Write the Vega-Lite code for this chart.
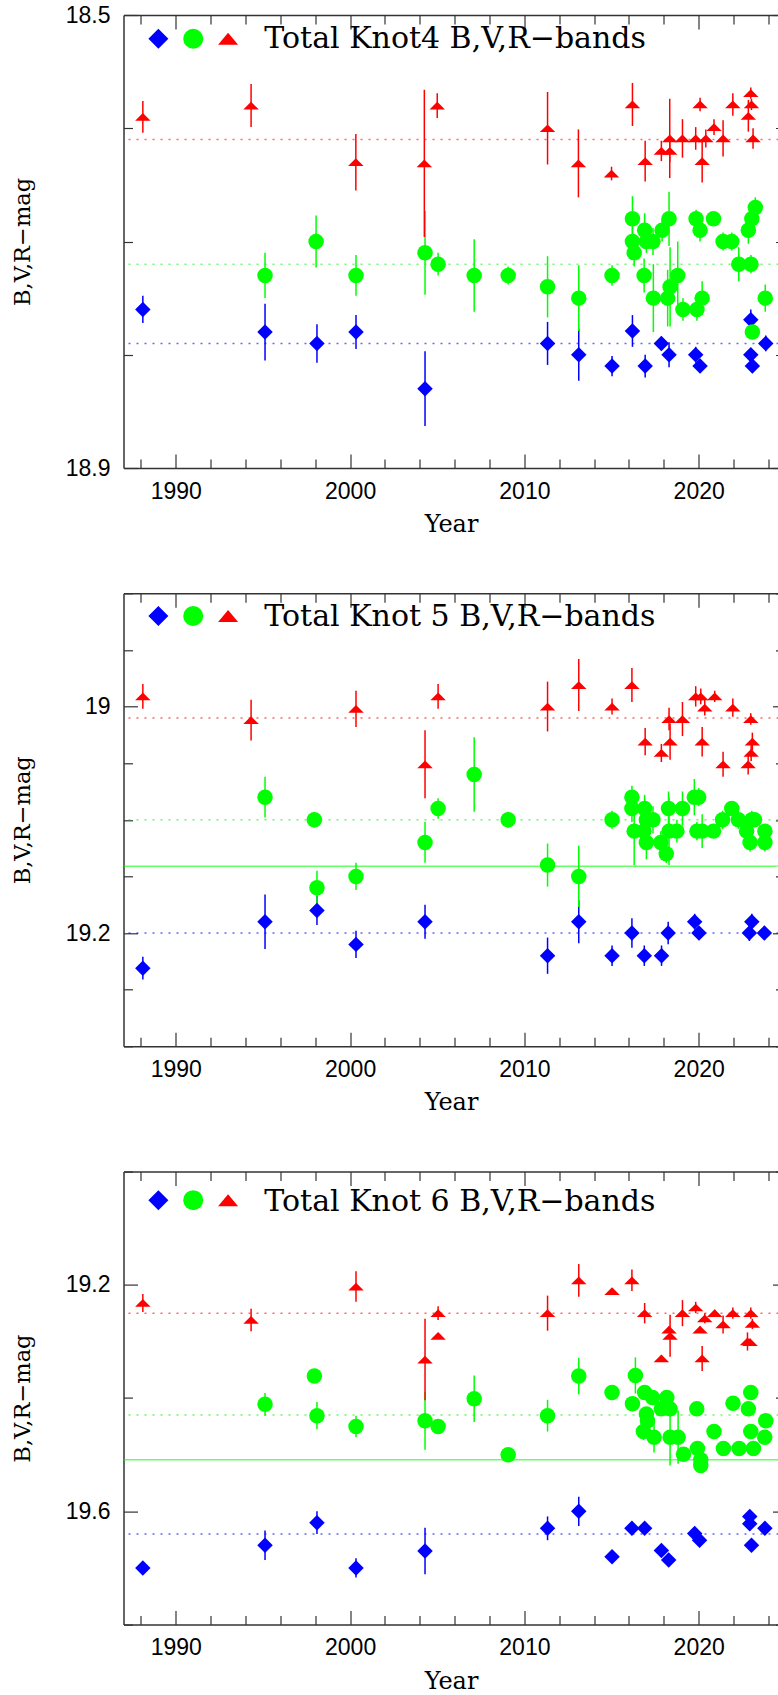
{
"$schema":"https://vega.github.io/schema/vega-lite/v6.json",
"padding":{"left":11.5,"top":4,"right":0,"bottom":0},
"background":"white",
"config":{"view":{"stroke":null}},
"spacing":125.3,
"bounds":"flush",
"datasets":{
"lines":[
{"panel":1,"band":"R","kind":"mean","mag":18.61},{"panel":1,"band":"V","kind":"mean","mag":18.72},{"panel":1,"band":"B","kind":"mean","mag":18.79},
{"panel":2,"band":"R","kind":"mean","mag":19.01},{"panel":2,"band":"V","kind":"mean","mag":19.10},{"panel":2,"band":"V","kind":"fit","mag":19.141},{"panel":2,"band":"B","kind":"mean","mag":19.20},
{"panel":3,"band":"R","kind":"mean","mag":19.25},{"panel":3,"band":"V","kind":"mean","mag":19.43},{"panel":3,"band":"V","kind":"fit","mag":19.509},{"panel":3,"band":"B","kind":"mean","mag":19.64}],
"obs":[
{"panel":1,"band":"B","year":1988.11,"mag":18.760,"err":0.012},
{"panel":1,"band":"B","year":1995.12,"mag":18.780,"err":0.025},
{"panel":1,"band":"B","year":1998.10,"mag":18.790,"err":0.017},
{"panel":1,"band":"B","year":2000.34,"mag":18.780,"err":0.015},
{"panel":1,"band":"B","year":2004.30,"mag":18.830,"err":0.033},
{"panel":1,"band":"B","year":2011.33,"mag":18.790,"err":0.019},
{"panel":1,"band":"B","year":2013.12,"mag":18.800,"err":0.023},
{"panel":1,"band":"B","year":2015.03,"mag":18.810,"err":0.009},
{"panel":1,"band":"B","year":2016.20,"mag":18.779,"err":0.014},
{"panel":1,"band":"B","year":2016.93,"mag":18.810,"err":0.010},
{"panel":1,"band":"B","year":2017.86,"mag":18.790,"err":0.006},
{"panel":1,"band":"B","year":2018.30,"mag":18.800,"err":0.011},
{"panel":1,"band":"B","year":2019.83,"mag":18.800,"err":0.007},
{"panel":1,"band":"B","year":2020.08,"mag":18.810,"err":0.006},
{"panel":1,"band":"B","year":2022.99,"mag":18.769,"err":0.009},
{"panel":1,"band":"B","year":2022.99,"mag":18.800,"err":0.006},
{"panel":1,"band":"B","year":2023.08,"mag":18.810,"err":0.006},
{"panel":1,"band":"B","year":2023.85,"mag":18.790,"err":0.007},
{"panel":1,"band":"V","year":1995.12,"mag":18.730,"err":0.020},
{"panel":1,"band":"V","year":1998.05,"mag":18.700,"err":0.023},
{"panel":1,"band":"V","year":2000.34,"mag":18.730,"err":0.018},
{"panel":1,"band":"V","year":2004.30,"mag":18.710,"err":0.037},
{"panel":1,"band":"V","year":2005.05,"mag":18.720,"err":0.010},
{"panel":1,"band":"V","year":2007.12,"mag":18.730,"err":0.032},
{"panel":1,"band":"V","year":2009.07,"mag":18.730,"err":0.008},
{"panel":1,"band":"V","year":2011.33,"mag":18.740,"err":0.027},
{"panel":1,"band":"V","year":2013.12,"mag":18.750,"err":0.029},
{"panel":1,"band":"V","year":2015.03,"mag":18.730,"err":0.009},
{"panel":1,"band":"V","year":2016.20,"mag":18.680,"err":0.020},
{"panel":1,"band":"V","year":2016.20,"mag":18.700,"err":0.015},
{"panel":1,"band":"V","year":2016.30,"mag":18.710,"err":0.012},
{"panel":1,"band":"V","year":2016.90,"mag":18.690,"err":0.015},
{"panel":1,"band":"V","year":2016.87,"mag":18.730,"err":0.015},
{"panel":1,"band":"V","year":2017.00,"mag":18.700,"err":0.010},
{"panel":1,"band":"V","year":2017.38,"mag":18.700,"err":0.012},
{"panel":1,"band":"V","year":2017.40,"mag":18.750,"err":0.030},
{"panel":1,"band":"V","year":2017.90,"mag":18.690,"err":0.010},
{"panel":1,"band":"V","year":2018.22,"mag":18.750,"err":0.025},
{"panel":1,"band":"V","year":2018.30,"mag":18.680,"err":0.024},
{"panel":1,"band":"V","year":2018.36,"mag":18.740,"err":0.035},
{"panel":1,"band":"V","year":2018.80,"mag":18.730,"err":0.030},
{"panel":1,"band":"V","year":2019.10,"mag":18.760,"err":0.010},
{"panel":1,"band":"V","year":2019.85,"mag":18.680,"err":0.008},
{"panel":1,"band":"V","year":2019.90,"mag":18.760,"err":0.010},
{"panel":1,"band":"V","year":2020.08,"mag":18.690,"err":0.010},
{"panel":1,"band":"V","year":2020.20,"mag":18.750,"err":0.015},
{"panel":1,"band":"V","year":2020.85,"mag":18.680,"err":0.006},
{"panel":1,"band":"V","year":2021.40,"mag":18.700,"err":0.008},
{"panel":1,"band":"V","year":2021.90,"mag":18.700,"err":0.008},
{"panel":1,"band":"V","year":2022.30,"mag":18.720,"err":0.015},
{"panel":1,"band":"V","year":2022.85,"mag":18.690,"err":0.012},
{"panel":1,"band":"V","year":2023.00,"mag":18.720,"err":0.008},
{"panel":1,"band":"V","year":2023.05,"mag":18.680,"err":0.008},
{"panel":1,"band":"V","year":2023.08,"mag":18.780,"err":0.005},
{"panel":1,"band":"V","year":2023.25,"mag":18.670,"err":0.009},
{"panel":1,"band":"V","year":2023.82,"mag":18.750,"err":0.012},
{"panel":1,"band":"R","year":1988.11,"mag":18.590,"err":0.014},
{"panel":1,"band":"R","year":1994.32,"mag":18.580,"err":0.019},
{"panel":1,"band":"R","year":2000.33,"mag":18.630,"err":0.025},
{"panel":1,"band":"R","year":2004.26,"mag":18.631,"err":0.065},
{"panel":1,"band":"R","year":2005.00,"mag":18.580,"err":0.011},
{"panel":1,"band":"R","year":2011.33,"mag":18.600,"err":0.032},
{"panel":1,"band":"R","year":2013.10,"mag":18.631,"err":0.030},
{"panel":1,"band":"R","year":2015.00,"mag":18.640,"err":0.006},
{"panel":1,"band":"R","year":2016.20,"mag":18.579,"err":0.019},
{"panel":1,"band":"R","year":2016.93,"mag":18.629,"err":0.018},
{"panel":1,"band":"R","year":2017.86,"mag":18.620,"err":0.009},
{"panel":1,"band":"R","year":2018.34,"mag":18.609,"err":0.035},
{"panel":1,"band":"R","year":2018.34,"mag":18.620,"err":0.010},
{"panel":1,"band":"R","year":2019.07,"mag":18.609,"err":0.017},
{"panel":1,"band":"R","year":2019.83,"mag":18.609,"err":0.010},
{"panel":1,"band":"R","year":2020.08,"mag":18.579,"err":0.006},
{"panel":1,"band":"R","year":2020.20,"mag":18.629,"err":0.019},
{"panel":1,"band":"R","year":2020.41,"mag":18.609,"err":0.008},
{"panel":1,"band":"R","year":2020.88,"mag":18.599,"err":0.007},
{"panel":1,"band":"R","year":2021.40,"mag":18.609,"err":0.016},
{"panel":1,"band":"R","year":2021.96,"mag":18.579,"err":0.010},
{"panel":1,"band":"R","year":2022.85,"mag":18.589,"err":0.014},
{"panel":1,"band":"R","year":2022.99,"mag":18.569,"err":0.005},
{"panel":1,"band":"R","year":2023.03,"mag":18.579,"err":0.005},
{"panel":1,"band":"R","year":2023.12,"mag":18.609,"err":0.009},
{"panel":2,"band":"B","year":1988.11,"mag":19.231,"err":0.010},
{"panel":2,"band":"B","year":1995.12,"mag":19.190,"err":0.024},
{"panel":2,"band":"B","year":1998.10,"mag":19.180,"err":0.013},
{"panel":2,"band":"B","year":2000.34,"mag":19.210,"err":0.012},
{"panel":2,"band":"B","year":2004.30,"mag":19.190,"err":0.015},
{"panel":2,"band":"B","year":2011.33,"mag":19.220,"err":0.016},
{"panel":2,"band":"B","year":2013.12,"mag":19.190,"err":0.019},
{"panel":2,"band":"B","year":2015.03,"mag":19.220,"err":0.009},
{"panel":2,"band":"B","year":2016.17,"mag":19.200,"err":0.013},
{"panel":2,"band":"B","year":2016.88,"mag":19.220,"err":0.009},
{"panel":2,"band":"B","year":2017.87,"mag":19.220,"err":0.009},
{"panel":2,"band":"B","year":2018.25,"mag":19.200,"err":0.010},
{"panel":2,"band":"B","year":2019.77,"mag":19.190,"err":0.007},
{"panel":2,"band":"B","year":2020.02,"mag":19.200,"err":0.006},
{"panel":2,"band":"B","year":2022.91,"mag":19.200,"err":0.007},
{"panel":2,"band":"B","year":2023.05,"mag":19.190,"err":0.007},
{"panel":2,"band":"B","year":2023.77,"mag":19.200,"err":0.006},
{"panel":2,"band":"V","year":1995.12,"mag":19.080,"err":0.018},
{"panel":2,"band":"V","year":1997.95,"mag":19.100,"err":0.007},
{"panel":2,"band":"V","year":1998.10,"mag":19.160,"err":0.015},
{"panel":2,"band":"V","year":2000.34,"mag":19.150,"err":0.012},
{"panel":2,"band":"V","year":2004.30,"mag":19.120,"err":0.018},
{"panel":2,"band":"V","year":2005.05,"mag":19.090,"err":0.009},
{"panel":2,"band":"V","year":2007.12,"mag":19.060,"err":0.033},
{"panel":2,"band":"V","year":2009.07,"mag":19.100,"err":0.007},
{"panel":2,"band":"V","year":2011.33,"mag":19.140,"err":0.019},
{"panel":2,"band":"V","year":2013.12,"mag":19.150,"err":0.027},
{"panel":2,"band":"V","year":2015.03,"mag":19.100,"err":0.008},
{"panel":2,"band":"V","year":2016.17,"mag":19.080,"err":0.010},
{"panel":2,"band":"V","year":2016.17,"mag":19.090,"err":0.012},
{"panel":2,"band":"V","year":2016.30,"mag":19.110,"err":0.030},
{"panel":2,"band":"V","year":2016.90,"mag":19.090,"err":0.012},
{"panel":2,"band":"V","year":2017.00,"mag":19.100,"err":0.010},
{"panel":2,"band":"V","year":2017.00,"mag":19.120,"err":0.015},
{"panel":2,"band":"V","year":2017.38,"mag":19.100,"err":0.012},
{"panel":2,"band":"V","year":2016.85,"mag":19.110,"err":0.010},
{"panel":2,"band":"V","year":2017.83,"mag":19.120,"err":0.010},
{"panel":2,"band":"V","year":2018.14,"mag":19.130,"err":0.008},
{"panel":2,"band":"V","year":2018.27,"mag":19.090,"err":0.015},
{"panel":2,"band":"V","year":2018.30,"mag":19.110,"err":0.030},
{"panel":2,"band":"V","year":2018.75,"mag":19.110,"err":0.010},
{"panel":2,"band":"V","year":2019.07,"mag":19.090,"err":0.015},
{"panel":2,"band":"V","year":2019.75,"mag":19.080,"err":0.016},
{"panel":2,"band":"V","year":2020.00,"mag":19.080,"err":0.008},
{"panel":2,"band":"V","year":2019.90,"mag":19.110,"err":0.008},
{"panel":2,"band":"V","year":2020.20,"mag":19.110,"err":0.015},
{"panel":2,"band":"V","year":2020.85,"mag":19.110,"err":0.006},
{"panel":2,"band":"V","year":2021.37,"mag":19.100,"err":0.008},
{"panel":2,"band":"V","year":2021.90,"mag":19.090,"err":0.006},
{"panel":2,"band":"V","year":2022.28,"mag":19.100,"err":0.008},
{"panel":2,"band":"V","year":2022.75,"mag":19.110,"err":0.008},
{"panel":2,"band":"V","year":2022.95,"mag":19.120,"err":0.008},
{"panel":2,"band":"V","year":2023.05,"mag":19.100,"err":0.008},
{"panel":2,"band":"V","year":2023.20,"mag":19.100,"err":0.006},
{"panel":2,"band":"V","year":2023.80,"mag":19.110,"err":0.006},
{"panel":2,"band":"V","year":2023.80,"mag":19.120,"err":0.008},
{"panel":2,"band":"R","year":1988.11,"mag":18.991,"err":0.011},
{"panel":2,"band":"R","year":1994.32,"mag":19.012,"err":0.018},
{"panel":2,"band":"R","year":2000.34,"mag":19.002,"err":0.016},
{"panel":2,"band":"R","year":2004.30,"mag":19.051,"err":0.030},
{"panel":2,"band":"R","year":2005.05,"mag":18.991,"err":0.011},
{"panel":2,"band":"R","year":2011.33,"mag":19.000,"err":0.022},
{"panel":2,"band":"R","year":2013.12,"mag":18.981,"err":0.023},
{"panel":2,"band":"R","year":2015.03,"mag":19.000,"err":0.007},
{"panel":2,"band":"R","year":2016.17,"mag":18.981,"err":0.015},
{"panel":2,"band":"R","year":2016.93,"mag":19.031,"err":0.012},
{"panel":2,"band":"R","year":2017.86,"mag":19.041,"err":0.008},
{"panel":2,"band":"R","year":2018.30,"mag":19.011,"err":0.010},
{"panel":2,"band":"R","year":2018.36,"mag":19.031,"err":0.016},
{"panel":2,"band":"R","year":2019.07,"mag":19.011,"err":0.015},
{"panel":2,"band":"R","year":2019.83,"mag":18.991,"err":0.009},
{"panel":2,"band":"R","year":2020.12,"mag":18.991,"err":0.007},
{"panel":2,"band":"R","year":2020.20,"mag":19.031,"err":0.013},
{"panel":2,"band":"R","year":2020.35,"mag":19.001,"err":0.007},
{"panel":2,"band":"R","year":2020.92,"mag":18.991,"err":0.005},
{"panel":2,"band":"R","year":2021.40,"mag":19.051,"err":0.011},
{"panel":2,"band":"R","year":2021.96,"mag":19.001,"err":0.008},
{"panel":2,"band":"R","year":2022.84,"mag":19.051,"err":0.009},
{"panel":2,"band":"R","year":2022.99,"mag":19.011,"err":0.005},
{"panel":2,"band":"R","year":2023.01,"mag":19.041,"err":0.007},
{"panel":2,"band":"R","year":2023.08,"mag":19.031,"err":0.008},
{"panel":3,"band":"B","year":1988.11,"mag":19.700,"err":0.005},
{"panel":3,"band":"B","year":1995.12,"mag":19.660,"err":0.026},
{"panel":3,"band":"B","year":1998.10,"mag":19.620,"err":0.020},
{"panel":3,"band":"B","year":2000.34,"mag":19.700,"err":0.017},
{"panel":3,"band":"B","year":2004.30,"mag":19.670,"err":0.041},
{"panel":3,"band":"B","year":2011.33,"mag":19.630,"err":0.021},
{"panel":3,"band":"B","year":2013.12,"mag":19.600,"err":0.026},
{"panel":3,"band":"B","year":2015.03,"mag":19.680,"err":0.005},
{"panel":3,"band":"B","year":2016.17,"mag":19.630,"err":0.008},
{"panel":3,"band":"B","year":2016.90,"mag":19.630,"err":0.006},
{"panel":3,"band":"B","year":2017.86,"mag":19.669,"err":0.006},
{"panel":3,"band":"B","year":2018.28,"mag":19.686,"err":0.006},
{"panel":3,"band":"B","year":2019.77,"mag":19.639,"err":0.005},
{"panel":3,"band":"B","year":2020.05,"mag":19.651,"err":0.006},
{"panel":3,"band":"B","year":2022.93,"mag":19.609,"err":0.006},
{"panel":3,"band":"B","year":2022.93,"mag":19.622,"err":0.006},
{"panel":3,"band":"B","year":2023.03,"mag":19.660,"err":0.006},
{"panel":3,"band":"B","year":2023.80,"mag":19.630,"err":0.006},
{"panel":3,"band":"V","year":1995.12,"mag":19.411,"err":0.020},
{"panel":3,"band":"V","year":1997.95,"mag":19.361,"err":0.006},
{"panel":3,"band":"V","year":1998.10,"mag":19.431,"err":0.024},
{"panel":3,"band":"V","year":2000.34,"mag":19.450,"err":0.019},
{"panel":3,"band":"V","year":2004.30,"mag":19.440,"err":0.051},
{"panel":3,"band":"V","year":2005.05,"mag":19.450,"err":0.010},
{"panel":3,"band":"V","year":2007.12,"mag":19.401,"err":0.041},
{"panel":3,"band":"V","year":2009.07,"mag":19.500,"err":0.008},
{"panel":3,"band":"V","year":2011.33,"mag":19.431,"err":0.028},
{"panel":3,"band":"V","year":2013.12,"mag":19.361,"err":0.032},
{"panel":3,"band":"V","year":2015.03,"mag":19.390,"err":0.008},
{"panel":3,"band":"V","year":2016.37,"mag":19.360,"err":0.032},
{"panel":3,"band":"V","year":2016.90,"mag":19.390,"err":0.010},
{"panel":3,"band":"V","year":2016.20,"mag":19.410,"err":0.012},
{"panel":3,"band":"V","year":2017.00,"mag":19.428,"err":0.012},
{"panel":3,"band":"V","year":2017.06,"mag":19.440,"err":0.015},
{"panel":3,"band":"V","year":2017.35,"mag":19.399,"err":0.010},
{"panel":3,"band":"V","year":2016.83,"mag":19.459,"err":0.015},
{"panel":3,"band":"V","year":2017.44,"mag":19.469,"err":0.027},
{"panel":3,"band":"V","year":2017.86,"mag":19.419,"err":0.010},
{"panel":3,"band":"V","year":2018.17,"mag":19.399,"err":0.010},
{"panel":3,"band":"V","year":2018.36,"mag":19.419,"err":0.010},
{"panel":3,"band":"V","year":2018.36,"mag":19.469,"err":0.050},
{"panel":3,"band":"V","year":2018.82,"mag":19.469,"err":0.047},
{"panel":3,"band":"V","year":2019.13,"mag":19.499,"err":0.008},
{"panel":3,"band":"V","year":2019.89,"mag":19.419,"err":0.008},
{"panel":3,"band":"V","year":2019.93,"mag":19.489,"err":0.012},
{"panel":3,"band":"V","year":2020.12,"mag":19.509,"err":0.010},
{"panel":3,"band":"V","year":2020.12,"mag":19.519,"err":0.008},
{"panel":3,"band":"V","year":2020.88,"mag":19.459,"err":0.006},
{"panel":3,"band":"V","year":2021.42,"mag":19.489,"err":0.006},
{"panel":3,"band":"V","year":2021.97,"mag":19.409,"err":0.006},
{"panel":3,"band":"V","year":2022.32,"mag":19.489,"err":0.008},
{"panel":3,"band":"V","year":2022.85,"mag":19.419,"err":0.006},
{"panel":3,"band":"V","year":2022.99,"mag":19.390,"err":0.008},
{"panel":3,"band":"V","year":2022.99,"mag":19.459,"err":0.006},
{"panel":3,"band":"V","year":2023.14,"mag":19.489,"err":0.006},
{"panel":3,"band":"V","year":2023.85,"mag":19.440,"err":0.008},
{"panel":3,"band":"V","year":2023.79,"mag":19.469,"err":0.006},
{"panel":3,"band":"R","year":1988.11,"mag":19.232,"err":0.016},
{"panel":3,"band":"R","year":1994.32,"mag":19.262,"err":0.020},
{"panel":3,"band":"R","year":2000.34,"mag":19.203,"err":0.027},
{"panel":3,"band":"R","year":2004.30,"mag":19.332,"err":0.072},
{"panel":3,"band":"R","year":2005.05,"mag":19.250,"err":0.012},
{"panel":3,"band":"R","year":2005.05,"mag":19.290,"err":0.005},
{"panel":3,"band":"R","year":2011.33,"mag":19.250,"err":0.031},
{"panel":3,"band":"R","year":2013.12,"mag":19.192,"err":0.029},
{"panel":3,"band":"R","year":2015.03,"mag":19.211,"err":0.004},
{"panel":3,"band":"R","year":2016.17,"mag":19.192,"err":0.019},
{"panel":3,"band":"R","year":2016.90,"mag":19.250,"err":0.018},
{"panel":3,"band":"R","year":2017.86,"mag":19.330,"err":0.006},
{"panel":3,"band":"R","year":2018.30,"mag":19.279,"err":0.006},
{"panel":3,"band":"R","year":2018.36,"mag":19.290,"err":0.037},
{"panel":3,"band":"R","year":2019.07,"mag":19.250,"err":0.023},
{"panel":3,"band":"R","year":2019.83,"mag":19.240,"err":0.010},
{"panel":3,"band":"R","year":2020.08,"mag":19.279,"err":0.006},
{"panel":3,"band":"R","year":2020.20,"mag":19.330,"err":0.022},
{"panel":3,"band":"R","year":2020.35,"mag":19.259,"err":0.009},
{"panel":3,"band":"R","year":2020.92,"mag":19.250,"err":0.006},
{"panel":3,"band":"R","year":2021.40,"mag":19.270,"err":0.016},
{"panel":3,"band":"R","year":2021.96,"mag":19.250,"err":0.010},
{"panel":3,"band":"R","year":2022.80,"mag":19.300,"err":0.016},
{"panel":3,"band":"R","year":2022.95,"mag":19.301,"err":0.006},
{"panel":3,"band":"R","year":2022.99,"mag":19.250,"err":0.010},
{"panel":3,"band":"R","year":2023.08,"mag":19.269,"err":0.009}
]},
"vconcat":[
{"width":655,"height":453,
"resolve":{"axis":{"x":"independent","y":"independent"}},
"layer":[
{"data":{"name":"lines"},"transform":[{"filter":"datum.panel === 1"}],
 "mark":{"type":"rule","strokeWidth":1.5,"opacity":0.6},
 "encoding":{"y":{"field":"mag","type":"quantitative","scale":{"domain":[18.5,18.9],"reverse":true,"nice":false,"zero":false},"axis":null},
  "color":{"field":"band","type":"nominal","scale":{"domain":["B","V","R"],"range":["#0000ff","#00ff00","#ff0000"]},"legend":null},
  "strokeDash":{"field":"kind","type":"nominal","scale":{"domain":["mean","fit"],"range":[[2,6],[1,0]]},"legend":null}}},
{"data":{"name":"obs"},"transform":[{"filter":"datum.panel === 1"}],
 "mark":{"type":"errorbar","ticks":false,"thickness":1.5},
 "encoding":{"x":{"field":"year","type":"quantitative","scale":{"domain":[1987,2024.58],"nice":false,"zero":false},"axis":null},
  "y":{"field":"mag","type":"quantitative","scale":{"domain":[18.5,18.9],"reverse":true,"nice":false,"zero":false},"axis":null},
  "yError":{"field":"err"},
  "color":{"field":"band","type":"nominal","scale":{"domain":["B","V","R"],"range":["#0000ff","#00ff00","#ff0000"]},"legend":null}}},
{"data":{"name":"obs"},"transform":[{"filter":"datum.panel === 1"}],
 "mark":{"type":"point","filled":true,"opacity":1,"size":240},
 "encoding":{"x":{"field":"year","type":"quantitative","scale":{"domain":[1987,2024.58],"nice":false,"zero":false},
   "axis":{"orient":"bottom","values":[1988,1990,1992,1994,1996,1998,2000,2002,2004,2006,2008,2010,2012,2014,2016,2018,2020,2022,2024],"format":"d","labelExpr":"datum.value % 10 === 0 ? datum.label : ''","tickSize":{"condition":{"test":"datum.value % 10 === 0","value":-14},"value":-9},"labelPadding":44.1,"labelBaseline":"alphabetic","labelFont":"Liberation Sans","labelFontSize":23,"labelColor":"black","labelFlush":false,"labelOverlap":false,"labelBound":false,"title":"Year","titleFont":"DejaVu Serif","titleFontSize":24,"titleFontWeight":"normal","titleColor":"black","titleBaseline":"alphabetic","titlePadding":23.6,"minExtent":40,"maxExtent":40,"domainColor":"#333333","domainWidth":1.5,"tickColor":"#333333","tickWidth":1.2,"grid":false}},
  "y":{"field":"mag","type":"quantitative","scale":{"domain":[18.5,18.9],"reverse":true,"nice":false,"zero":false},
   "axis":{"orient":"left","values":[18.5,18.6,18.7,18.8,18.9],"labelExpr":"abs(datum.value-18.5)<0.001 ? '18.5' : abs(datum.value-18.9)<0.001 ? '18.9' : ''","tickSize":{"condition":{"test":"abs(datum.value-18.5)<0.001 || abs(datum.value-18.9)<0.001","value":-14},"value":-9},"labelPadding":27.5,"labelFont":"Liberation Sans","labelFontSize":23,"labelColor":"black","labelFlush":false,"labelOverlap":false,"labelBound":false,"title":"B,V,R−mag","titleFont":"DejaVu Serif","titleFontSize":22.5,"titleFontWeight":"normal","titleColor":"black","titlePadding":31.7,"minExtent":57,"maxExtent":57,"domainColor":"#333333","domainWidth":1.5,"tickColor":"#333333","tickWidth":1.2,"grid":false}},
  "color":{"field":"band","type":"nominal","scale":{"domain":["B","V","R"],"range":["#0000ff","#00ff00","#ff0000"]},"legend":null},
  "shape":{"field":"band","type":"nominal","scale":{"domain":["B","V","R"],"range":["diamond","circle","M-1,0.5L0,-0.5L1,0.5Z"]},"legend":null}}},
{"data":{"name":"obs"},"transform":[{"filter":"datum.panel === 1"}],
 "mark":{"type":"point","opacity":0},
 "encoding":{"x":{"field":"year","type":"quantitative","scale":{"domain":[1987,2024.58],"nice":false,"zero":false},
   "axis":{"orient":"top","values":[1988,1990,1992,1994,1996,1998,2000,2002,2004,2006,2008,2010,2012,2014,2016,2018,2020,2022,2024],"labels":false,"title":null,"tickSize":{"condition":{"test":"datum.value % 10 === 0","value":-14},"value":-9},"domainColor":"#333333","domainWidth":1.5,"tickColor":"#333333","tickWidth":1.2,"grid":false}},
  "y":{"field":"mag","type":"quantitative","scale":{"domain":[18.5,18.9],"reverse":true,"nice":false,"zero":false},
   "axis":{"orient":"right","values":[18.5,18.6,18.7,18.8,18.9],"labels":false,"title":null,"domain":false,"tickSize":{"condition":{"test":"abs(datum.value-18.5)<0.001 || abs(datum.value-18.9)<0.001","value":-6},"value":-3},"tickColor":"#333333","tickWidth":1.2,"grid":false}}}},
{"data":{"values":[{}]},"mark":{"type":"point","filled":true,"opacity":1,"size":400,"shape":"diamond","color":"#0000ff"},
 "encoding":{"x":{"datum":1989,"type":"quantitative","scale":{"domain":[1987,2024.58],"nice":false,"zero":false},"axis":null},"y":{"datum":18.521,"type":"quantitative","scale":{"domain":[18.5,18.9],"reverse":true,"nice":false,"zero":false},"axis":null}}},
{"data":{"values":[{}]},"mark":{"type":"point","filled":true,"opacity":1,"size":400,"shape":"circle","color":"#00ff00"},
 "encoding":{"x":{"datum":1991,"type":"quantitative","scale":{"domain":[1987,2024.58],"nice":false,"zero":false},"axis":null},"y":{"datum":18.521,"type":"quantitative","scale":{"domain":[18.5,18.9],"reverse":true,"nice":false,"zero":false},"axis":null}}},
{"data":{"values":[{}]},"mark":{"type":"point","filled":true,"opacity":1,"size":400,"shape":"M-1,0.6L0,-0.6L1,0.6Z","color":"#ff0000"},
 "encoding":{"x":{"datum":1993,"type":"quantitative","scale":{"domain":[1987,2024.58],"nice":false,"zero":false},"axis":null},"y":{"datum":18.521,"type":"quantitative","scale":{"domain":[18.5,18.9],"reverse":true,"nice":false,"zero":false},"axis":null}}},
{"data":{"values":[{}]},"mark":{"type":"text","text":"Total Knot4  B,V,R−bands","align":"left","baseline":"alphabetic","font":"DejaVu Serif","fontSize":30,"color":"black"},
 "encoding":{"x":{"datum":1995.08,"type":"quantitative","scale":{"domain":[1987,2024.58],"nice":false,"zero":false},"axis":null},"y":{"datum":18.529,"type":"quantitative","scale":{"domain":[18.5,18.9],"reverse":true,"nice":false,"zero":false},"axis":null}}}
]},
{"width":655,"height":453,
"resolve":{"axis":{"x":"independent","y":"independent"}},
"layer":[
{"data":{"name":"lines"},"transform":[{"filter":"datum.panel === 2"}],
 "mark":{"type":"rule","strokeWidth":1.5,"opacity":0.6},
 "encoding":{"y":{"field":"mag","type":"quantitative","scale":{"domain":[18.9,19.3],"reverse":true,"nice":false,"zero":false},"axis":null},
  "color":{"field":"band","type":"nominal","scale":{"domain":["B","V","R"],"range":["#0000ff","#00ff00","#ff0000"]},"legend":null},
  "strokeDash":{"field":"kind","type":"nominal","scale":{"domain":["mean","fit"],"range":[[2,6],[1,0]]},"legend":null}}},
{"data":{"name":"obs"},"transform":[{"filter":"datum.panel === 2"}],
 "mark":{"type":"errorbar","ticks":false,"thickness":1.5},
 "encoding":{"x":{"field":"year","type":"quantitative","scale":{"domain":[1987,2024.58],"nice":false,"zero":false},"axis":null},
  "y":{"field":"mag","type":"quantitative","scale":{"domain":[18.9,19.3],"reverse":true,"nice":false,"zero":false},"axis":null},
  "yError":{"field":"err"},
  "color":{"field":"band","type":"nominal","scale":{"domain":["B","V","R"],"range":["#0000ff","#00ff00","#ff0000"]},"legend":null}}},
{"data":{"name":"obs"},"transform":[{"filter":"datum.panel === 2"}],
 "mark":{"type":"point","filled":true,"opacity":1,"size":240},
 "encoding":{"x":{"field":"year","type":"quantitative","scale":{"domain":[1987,2024.58],"nice":false,"zero":false},
   "axis":{"orient":"bottom","values":[1988,1990,1992,1994,1996,1998,2000,2002,2004,2006,2008,2010,2012,2014,2016,2018,2020,2022,2024],"format":"d","labelExpr":"datum.value % 10 === 0 ? datum.label : ''","tickSize":{"condition":{"test":"datum.value % 10 === 0","value":-14},"value":-9},"labelPadding":44.1,"labelBaseline":"alphabetic","labelFont":"Liberation Sans","labelFontSize":23,"labelColor":"black","labelFlush":false,"labelOverlap":false,"labelBound":false,"title":"Year","titleFont":"DejaVu Serif","titleFontSize":24,"titleFontWeight":"normal","titleColor":"black","titleBaseline":"alphabetic","titlePadding":23.6,"minExtent":40,"maxExtent":40,"domainColor":"#333333","domainWidth":1.5,"tickColor":"#333333","tickWidth":1.2,"grid":false}},
  "y":{"field":"mag","type":"quantitative","scale":{"domain":[18.9,19.3],"reverse":true,"nice":false,"zero":false},
   "axis":{"orient":"left","values":[18.9,18.95,19.0,19.05,19.1,19.15,19.2,19.25,19.3],"labelExpr":"abs(datum.value-19)<0.001 ? '19' : abs(datum.value-19.2)<0.001 ? '19.2' : ''","tickSize":{"condition":{"test":"abs(datum.value-19)<0.001 || abs(datum.value-19.2)<0.001","value":-14},"value":-9},"labelPadding":27.5,"labelFont":"Liberation Sans","labelFontSize":23,"labelColor":"black","labelFlush":false,"labelOverlap":false,"labelBound":false,"title":"B,V,R−mag","titleFont":"DejaVu Serif","titleFontSize":22.5,"titleFontWeight":"normal","titleColor":"black","titlePadding":31.7,"minExtent":57,"maxExtent":57,"domainColor":"#333333","domainWidth":1.5,"tickColor":"#333333","tickWidth":1.2,"grid":false}},
  "color":{"field":"band","type":"nominal","scale":{"domain":["B","V","R"],"range":["#0000ff","#00ff00","#ff0000"]},"legend":null},
  "shape":{"field":"band","type":"nominal","scale":{"domain":["B","V","R"],"range":["diamond","circle","M-1,0.5L0,-0.5L1,0.5Z"]},"legend":null}}},
{"data":{"name":"obs"},"transform":[{"filter":"datum.panel === 2"}],
 "mark":{"type":"point","opacity":0},
 "encoding":{"x":{"field":"year","type":"quantitative","scale":{"domain":[1987,2024.58],"nice":false,"zero":false},
   "axis":{"orient":"top","values":[1988,1990,1992,1994,1996,1998,2000,2002,2004,2006,2008,2010,2012,2014,2016,2018,2020,2022,2024],"labels":false,"title":null,"tickSize":{"condition":{"test":"datum.value % 10 === 0","value":-14},"value":-9},"domainColor":"#333333","domainWidth":1.5,"tickColor":"#333333","tickWidth":1.2,"grid":false}},
  "y":{"field":"mag","type":"quantitative","scale":{"domain":[18.9,19.3],"reverse":true,"nice":false,"zero":false},
   "axis":{"orient":"right","values":[18.9,18.95,19.0,19.05,19.1,19.15,19.2,19.25,19.3],"labels":false,"title":null,"domain":false,"tickSize":{"condition":{"test":"abs(datum.value-19)<0.001 || abs(datum.value-19.2)<0.001","value":-6},"value":-3},"tickColor":"#333333","tickWidth":1.2,"grid":false}}}},
{"data":{"values":[{}]},"mark":{"type":"point","filled":true,"opacity":1,"size":400,"shape":"diamond","color":"#0000ff"},
 "encoding":{"x":{"datum":1989,"type":"quantitative","scale":{"domain":[1987,2024.58],"nice":false,"zero":false},"axis":null},"y":{"datum":18.920,"type":"quantitative","scale":{"domain":[18.9,19.3],"reverse":true,"nice":false,"zero":false},"axis":null}}},
{"data":{"values":[{}]},"mark":{"type":"point","filled":true,"opacity":1,"size":400,"shape":"circle","color":"#00ff00"},
 "encoding":{"x":{"datum":1991,"type":"quantitative","scale":{"domain":[1987,2024.58],"nice":false,"zero":false},"axis":null},"y":{"datum":18.920,"type":"quantitative","scale":{"domain":[18.9,19.3],"reverse":true,"nice":false,"zero":false},"axis":null}}},
{"data":{"values":[{}]},"mark":{"type":"point","filled":true,"opacity":1,"size":400,"shape":"M-1,0.6L0,-0.6L1,0.6Z","color":"#ff0000"},
 "encoding":{"x":{"datum":1993,"type":"quantitative","scale":{"domain":[1987,2024.58],"nice":false,"zero":false},"axis":null},"y":{"datum":18.920,"type":"quantitative","scale":{"domain":[18.9,19.3],"reverse":true,"nice":false,"zero":false},"axis":null}}},
{"data":{"values":[{}]},"mark":{"type":"text","text":"Total Knot 5 B,V,R−bands","align":"left","baseline":"alphabetic","font":"DejaVu Serif","fontSize":30,"color":"black"},
 "encoding":{"x":{"datum":1995.08,"type":"quantitative","scale":{"domain":[1987,2024.58],"nice":false,"zero":false},"axis":null},"y":{"datum":18.929,"type":"quantitative","scale":{"domain":[18.9,19.3],"reverse":true,"nice":false,"zero":false},"axis":null}}}
]},
{"width":655,"height":453,
"resolve":{"axis":{"x":"independent","y":"independent"}},
"layer":[
{"data":{"name":"lines"},"transform":[{"filter":"datum.panel === 3"}],
 "mark":{"type":"rule","strokeWidth":1.5,"opacity":0.6},
 "encoding":{"y":{"field":"mag","type":"quantitative","scale":{"domain":[19.0,19.8],"reverse":true,"nice":false,"zero":false},"axis":null},
  "color":{"field":"band","type":"nominal","scale":{"domain":["B","V","R"],"range":["#0000ff","#00ff00","#ff0000"]},"legend":null},
  "strokeDash":{"field":"kind","type":"nominal","scale":{"domain":["mean","fit"],"range":[[2,6],[1,0]]},"legend":null}}},
{"data":{"name":"obs"},"transform":[{"filter":"datum.panel === 3"}],
 "mark":{"type":"errorbar","ticks":false,"thickness":1.5},
 "encoding":{"x":{"field":"year","type":"quantitative","scale":{"domain":[1987,2024.58],"nice":false,"zero":false},"axis":null},
  "y":{"field":"mag","type":"quantitative","scale":{"domain":[19.0,19.8],"reverse":true,"nice":false,"zero":false},"axis":null},
  "yError":{"field":"err"},
  "color":{"field":"band","type":"nominal","scale":{"domain":["B","V","R"],"range":["#0000ff","#00ff00","#ff0000"]},"legend":null}}},
{"data":{"name":"obs"},"transform":[{"filter":"datum.panel === 3"}],
 "mark":{"type":"point","filled":true,"opacity":1,"size":240},
 "encoding":{"x":{"field":"year","type":"quantitative","scale":{"domain":[1987,2024.58],"nice":false,"zero":false},
   "axis":{"orient":"bottom","values":[1988,1990,1992,1994,1996,1998,2000,2002,2004,2006,2008,2010,2012,2014,2016,2018,2020,2022,2024],"format":"d","labelExpr":"datum.value % 10 === 0 ? datum.label : ''","tickSize":{"condition":{"test":"datum.value % 10 === 0","value":-14},"value":-9},"labelPadding":44.1,"labelBaseline":"alphabetic","labelFont":"Liberation Sans","labelFontSize":23,"labelColor":"black","labelFlush":false,"labelOverlap":false,"labelBound":false,"title":"Year","titleFont":"DejaVu Serif","titleFontSize":24,"titleFontWeight":"normal","titleColor":"black","titleBaseline":"alphabetic","titlePadding":23.6,"minExtent":40,"maxExtent":40,"domainColor":"#333333","domainWidth":1.5,"tickColor":"#333333","tickWidth":1.2,"grid":false}},
  "y":{"field":"mag","type":"quantitative","scale":{"domain":[19.0,19.8],"reverse":true,"nice":false,"zero":false},
   "axis":{"orient":"left","values":[19.0,19.2,19.4,19.6,19.8],"labelExpr":"abs(datum.value-19.2)<0.001 ? '19.2' : abs(datum.value-19.6)<0.001 ? '19.6' : ''","tickSize":{"condition":{"test":"abs(datum.value-19.2)<0.001 || abs(datum.value-19.6)<0.001","value":-14},"value":-9},"labelPadding":27.5,"labelFont":"Liberation Sans","labelFontSize":23,"labelColor":"black","labelFlush":false,"labelOverlap":false,"labelBound":false,"title":"B,V,R−mag","titleFont":"DejaVu Serif","titleFontSize":22.5,"titleFontWeight":"normal","titleColor":"black","titlePadding":31.7,"minExtent":57,"maxExtent":57,"domainColor":"#333333","domainWidth":1.5,"tickColor":"#333333","tickWidth":1.2,"grid":false}},
  "color":{"field":"band","type":"nominal","scale":{"domain":["B","V","R"],"range":["#0000ff","#00ff00","#ff0000"]},"legend":null},
  "shape":{"field":"band","type":"nominal","scale":{"domain":["B","V","R"],"range":["diamond","circle","M-1,0.5L0,-0.5L1,0.5Z"]},"legend":null}}},
{"data":{"name":"obs"},"transform":[{"filter":"datum.panel === 3"}],
 "mark":{"type":"point","opacity":0},
 "encoding":{"x":{"field":"year","type":"quantitative","scale":{"domain":[1987,2024.58],"nice":false,"zero":false},
   "axis":{"orient":"top","values":[1988,1990,1992,1994,1996,1998,2000,2002,2004,2006,2008,2010,2012,2014,2016,2018,2020,2022,2024],"labels":false,"title":null,"tickSize":{"condition":{"test":"datum.value % 10 === 0","value":-14},"value":-9},"domainColor":"#333333","domainWidth":1.5,"tickColor":"#333333","tickWidth":1.2,"grid":false}},
  "y":{"field":"mag","type":"quantitative","scale":{"domain":[19.0,19.8],"reverse":true,"nice":false,"zero":false},
   "axis":{"orient":"right","values":[19.0,19.2,19.4,19.6,19.8],"labels":false,"title":null,"domain":false,"tickSize":{"condition":{"test":"abs(datum.value-19.2)<0.001 || abs(datum.value-19.6)<0.001","value":-6},"value":-3},"tickColor":"#333333","tickWidth":1.2,"grid":false}}}},
{"data":{"values":[{}]},"mark":{"type":"point","filled":true,"opacity":1,"size":400,"shape":"diamond","color":"#0000ff"},
 "encoding":{"x":{"datum":1989,"type":"quantitative","scale":{"domain":[1987,2024.58],"nice":false,"zero":false},"axis":null},"y":{"datum":19.0505,"type":"quantitative","scale":{"domain":[19.0,19.8],"reverse":true,"nice":false,"zero":false},"axis":null}}},
{"data":{"values":[{}]},"mark":{"type":"point","filled":true,"opacity":1,"size":400,"shape":"circle","color":"#00ff00"},
 "encoding":{"x":{"datum":1991,"type":"quantitative","scale":{"domain":[1987,2024.58],"nice":false,"zero":false},"axis":null},"y":{"datum":19.0505,"type":"quantitative","scale":{"domain":[19.0,19.8],"reverse":true,"nice":false,"zero":false},"axis":null}}},
{"data":{"values":[{}]},"mark":{"type":"point","filled":true,"opacity":1,"size":400,"shape":"M-1,0.6L0,-0.6L1,0.6Z","color":"#ff0000"},
 "encoding":{"x":{"datum":1993,"type":"quantitative","scale":{"domain":[1987,2024.58],"nice":false,"zero":false},"axis":null},"y":{"datum":19.0505,"type":"quantitative","scale":{"domain":[19.0,19.8],"reverse":true,"nice":false,"zero":false},"axis":null}}},
{"data":{"values":[{}]},"mark":{"type":"text","text":"Total Knot 6 B,V,R−bands","align":"left","baseline":"alphabetic","font":"DejaVu Serif","fontSize":30,"color":"black"},
 "encoding":{"x":{"datum":1995.08,"type":"quantitative","scale":{"domain":[1987,2024.58],"nice":false,"zero":false},"axis":null},"y":{"datum":19.069,"type":"quantitative","scale":{"domain":[19.0,19.8],"reverse":true,"nice":false,"zero":false},"axis":null}}}
]}
]
}
